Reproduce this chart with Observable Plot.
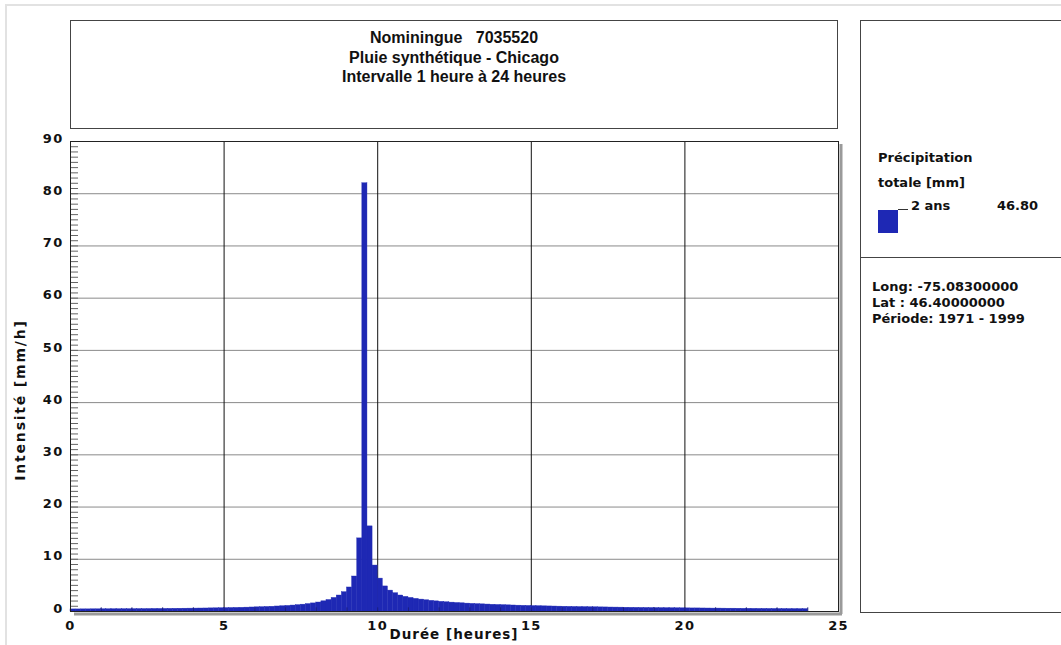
<!DOCTYPE html>
<html>
<head>
<meta charset="utf-8">
<script src="https://cdn.jsdelivr.net/npm/d3@7"></script>
<script src="https://cdn.jsdelivr.net/npm/@observablehq/plot@0.6"></script>
<style>
  body { margin: 0; background: white; }
  #wrap { position: relative; width: 1061px; height: 645px; overflow: hidden; background: white; }
  .abs { position: absolute; }
  .box { position: absolute; border: 1px solid #444; box-sizing: border-box; background: white; }
  .title { font-family: "Liberation Sans Narrow", "Liberation Sans", sans-serif; font-weight: bold; font-size: 16px; line-height: 19.5px; text-align: center; color: #111; }
  .leg { font-family: "DejaVu Sans", sans-serif; font-weight: bold; font-size: 13px; color: #111; white-space: nowrap; }
  .axt { font-family: "DejaVu Sans", sans-serif; font-weight: bold; font-size: 13px; color: #111; white-space: nowrap; letter-spacing: 1px; }
</style>
</head>
<body>
<div id="wrap">
  <div class="abs" style="left:5px;top:4px;width:1100px;height:700px;border-top:2px solid #e2e2e2;border-left:2px solid #e2e2e2;"></div>
  <div id="chart" class="abs" style="left:0;top:0;"></div>
  <div class="box" style="left:70px;top:20px;width:768px;height:109px;">
    <div class="title" style="padding-top:7px;">
      <div>Nominingue&nbsp;&nbsp;&nbsp;7035520</div>
      <div>Pluie synthétique - Chicago</div>
      <div>Intervalle 1 heure à 24 heures</div>
    </div>
  </div>
  <div class="box" style="left:860px;top:20px;width:220px;height:593px;"></div>
  <div class="abs" style="left:860px;top:257px;width:220px;height:0;border-top:1px solid #444;"></div>
  <div class="abs leg" style="left:878px;top:150px;">Précipitation</div>
  <div class="abs leg" style="left:878px;top:175px;">totale [mm]</div>
  <div class="abs" style="left:878px;top:210px;width:20px;height:23px;background:#1e28b4;"></div>
  <div class="abs" style="left:898px;top:209px;width:10px;height:0;border-top:1px solid #333;"></div>
  <div id="legSeries" class="abs leg" style="left:911px;top:198px;"></div>
  <div id="legTotal" class="abs leg" style="left:997px;top:198px;"></div>
  <div class="abs leg" style="left:872px;top:279px;line-height:16px;">
    <div id="infoLong"></div>
    <div id="infoLat"></div>
    <div id="infoPer"></div>
  </div>
  <div class="abs axt" style="left:20px;top:400px;transform:translate(-50%,-50%) rotate(-90deg);font-size:14px;letter-spacing:1.8px;">Intensité [mm/h]</div>
  <div class="abs axt" style="left:454px;top:634px;transform:translate(-50%,-50%);font-size:13.5px;">Durée [heures]</div>
</div>
<script>
// ---- data ----
// Intensity (mm/h) for each 10-minute interval, from 0 h to 24 h
const stepHours = 1 / 6;
const intensity = [
  0.40, 0.40, 0.41, 0.41, 0.42, 0.42,
  0.43, 0.43, 0.44, 0.44, 0.45, 0.45,
  0.46, 0.47, 0.47, 0.48, 0.49, 0.49,
  0.50, 0.51, 0.52, 0.53, 0.54, 0.55,
  0.56, 0.57, 0.58, 0.60, 0.61, 0.63,
  0.65, 0.67, 0.69, 0.71, 0.74, 0.77,
  0.80, 0.83, 0.87, 0.91, 0.96, 1.01,
  1.07, 1.14, 1.22, 1.31, 1.42, 1.55,
  1.72, 1.95, 2.20, 2.60, 3.06, 3.70,
  4.60, 6.70, 14.0, 82.0, 16.3, 8.80,
  6.30, 4.80, 4.00, 3.50, 3.06, 2.80,
  2.60, 2.42, 2.28, 2.15, 2.04, 1.94,
  1.85, 1.77, 1.70, 1.63, 1.57, 1.51,
  1.46, 1.41, 1.37, 1.33, 1.29, 1.25,
  1.22, 1.18, 1.15, 1.12, 1.09, 1.07,
  1.04, 1.02, 0.99, 0.97, 0.95, 0.93,
  0.91, 0.89, 0.87, 0.85, 0.84, 0.82,
  0.81, 0.79, 0.78, 0.76, 0.75, 0.74,
  0.72, 0.71, 0.70, 0.69, 0.68, 0.67,
  0.66, 0.65, 0.64, 0.63, 0.62, 0.61,
  0.60, 0.59, 0.59, 0.58, 0.57, 0.56,
  0.56, 0.55, 0.54, 0.54, 0.53, 0.52,
  0.52, 0.51, 0.50, 0.50, 0.49, 0.49,
  0.48, 0.48, 0.47, 0.47, 0.46, 0.46
];
const xTicks = [0, 5, 10, 15, 20, 25];
const yTicks = [0, 10, 20, 30, 40, 50, 60, 70, 80, 90];
const yGrid = [10, 20, 30, 40, 50, 60, 70, 80];
const xGrid = [5, 10, 15, 20];
const seriesName = "2 ans";
const seriesTotal = "46.80";
const infoLines = ["Long: -75.08300000", "Lat : 46.40000000", "Période: 1971 - 1999"];

document.getElementById("legSeries").textContent = seriesName;
document.getElementById("legTotal").textContent = seriesTotal;
document.getElementById("infoLong").textContent = infoLines[0];
document.getElementById("infoLat").textContent = infoLines[1];
document.getElementById("infoPer").textContent = infoLines[2];

const rows = intensity.map((v, i) => ({x1: i * stepHours, x2: (i + 1) * stepHours, y: v}));
const minorY = d3.range(0, 91, 1);
const hourTicks = d3.range(1, 25, 1);
const blue = "#1e28b4";

const chart = Plot.plot({
  width: 1061,
  height: 645,
  marginLeft: 70,
  marginRight: 223,
  marginTop: 141,
  marginBottom: 34,
  style: {background: "transparent", fontFamily: "DejaVu Sans, sans-serif", fontWeight: "bold", fontSize: "13px", color: "#111"},
  x: {domain: [0, 25]},
  y: {domain: [0, 90]},
  marks: [
    Plot.gridY(yGrid, {stroke: "#8a8a8a", strokeOpacity: 1}),
    Plot.gridX(xGrid, {stroke: "#111", strokeOpacity: 1}),
    Plot.rectY(rows, {x1: "x1", x2: "x2", y: "y", fill: blue, stroke: blue, strokeWidth: 0.4}),
    Plot.ruleX(hourTicks, {y1: 0, y2: 0.7, stroke: "#1a1f80"}),
    Plot.axisY(minorY, {anchor: "left", tickSize: 8, dx: 8, tickFormat: () => "", stroke: "#666", label: null}),
    Plot.axisY(yTicks, {anchor: "left", tickSize: 0, tickPadding: 7, dy: -3, label: null, fontSize: 13, fontWeight: "bold"}),
    Plot.axisX(xTicks, {anchor: "bottom", tickSize: 0, tickPadding: 9, label: null, fontSize: 13, fontWeight: "bold"}),
    Plot.ruleY([0], {stroke: "#9a9a9a", strokeWidth: 3, dy: 2.5, dx: 4}),
    Plot.ruleX([25], {stroke: "#9a9a9a", strokeWidth: 3, dx: 2.5, dy: 3}),
    Plot.frame({stroke: "#222"})
  ]
});
chart.querySelectorAll("text").forEach(t => t.style.letterSpacing = "1.3px");
document.getElementById("chart").appendChild(chart);
</script>
</body>
</html>
